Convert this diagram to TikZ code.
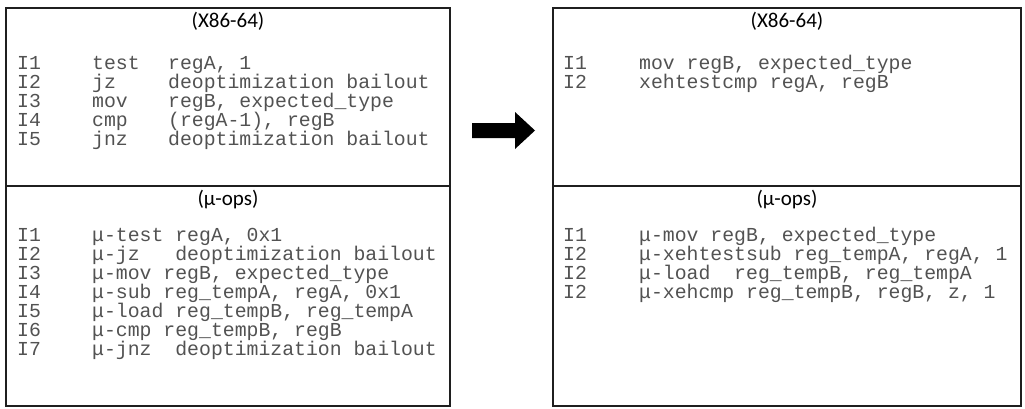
\documentclass[tikz,border=0pt]{standalone}
\usepackage{fontspec}
\newfontfamily\codefont{Liberation Mono}
\newfontfamily\headfont{Carlito}
\begin{document}
\begin{tikzpicture}[x=1pt,y=-1pt,
  panel/.style={draw=black!88, line width=2pt},
  code/.style={anchor=base west, inner sep=0pt, text=black!68,
    font=\codefont\fontsize{19.8}{19}\selectfont},
  head/.style={anchor=center, inner sep=0pt,
    font=\headfont\fontsize{21}{21}\selectfont}]
\useasboundingbox (0,0) rectangle (1025,408);

% ---- panels -------------------------------------------------------
\draw[panel] (6,8) rectangle (450,406);
\draw[panel] (6,186) -- (450,186);
\draw[panel] (553,8) rectangle (1021,406);
\draw[panel] (553,186) -- (1021,186);

% ---- headings -----------------------------------------------------
\node[head] (hLa) at (228,21)  {(X86-64)};
\node[head] (hLb) at (228,200) {(μ-ops)};
\node[head] (hRa) at (787,21)  {(X86-64)};
\node[head] (hRb) at (787,200) {(μ-ops)};

% ---- original x86 sequence ---------------------------------------
\foreach \n/\op/\arg [count=\i] in {
    I1/test/{regA, 1},
    I2/jz/{deoptimization bailout},
    I3/mov/{regB, expected\_type},
    I4/cmp/{(regA-1), regB},
    I5/jnz/{deoptimization bailout}}{
  \node[code] (xa\i) at (17,{69+19*(\i-1)})  {\n};
  \node[code] (xb\i) at (92,{69+19*(\i-1)})  {\op};
  \node[code] (xc\i) at (168,{69+19*(\i-1)}) {\arg};
}

% ---- original micro-op sequence ----------------------------------
\foreach \n/\txt [count=\i] in {
    I1/{μ-test regA, 0x1},
    I2/{μ-jz~~~deoptimization bailout},
    I3/{μ-mov regB, expected\_type},
    I4/{μ-sub reg\_tempA, regA, 0x1},
    I5/{μ-load reg\_tempB, reg\_tempA},
    I6/{μ-cmp reg\_tempB, regB},
    I7/{μ-jnz~~deoptimization bailout}}{
  \node[code] (ua\i) at (17,{241+19*(\i-1)}) {\n};
  \node[code] (ub\i) at (92,{241+19*(\i-1)}) {\txt};
}

% ---- fused x86 sequence ------------------------------------------
\foreach \n/\txt [count=\i] in {
    I1/{mov regB, expected\_type},
    I2/{xehtestcmp regA, regB}}{
  \node[code] (fa\i) at (563,{69+19*(\i-1)}) {\n};
  \node[code] (fb\i) at (639,{69+19*(\i-1)}) {\txt};
}

% ---- fused micro-op sequence -------------------------------------
\foreach \n/\txt [count=\i] in {
    I1/{μ-mov regB, expected\_type},
    I2/{μ-xehtestsub reg\_tempA, regA, 1},
    I2/{μ-load~~reg\_tempB, reg\_tempA},
    I2/{μ-xehcmp reg\_tempB, regB, z, 1}}{
  \node[code] (ga\i) at (563,{241+19*(\i-1)}) {\n};
  \node[code] (gb\i) at (639,{241+19*(\i-1)}) {\txt};
}

% ---- transformation arrow ----------------------------------------
\fill[black] (472,123) -- (515,123) -- (515,112) -- (535,130.5)
  -- (515,149) -- (515,138) -- (472,138) -- cycle;
\end{tikzpicture}
\end{document}
